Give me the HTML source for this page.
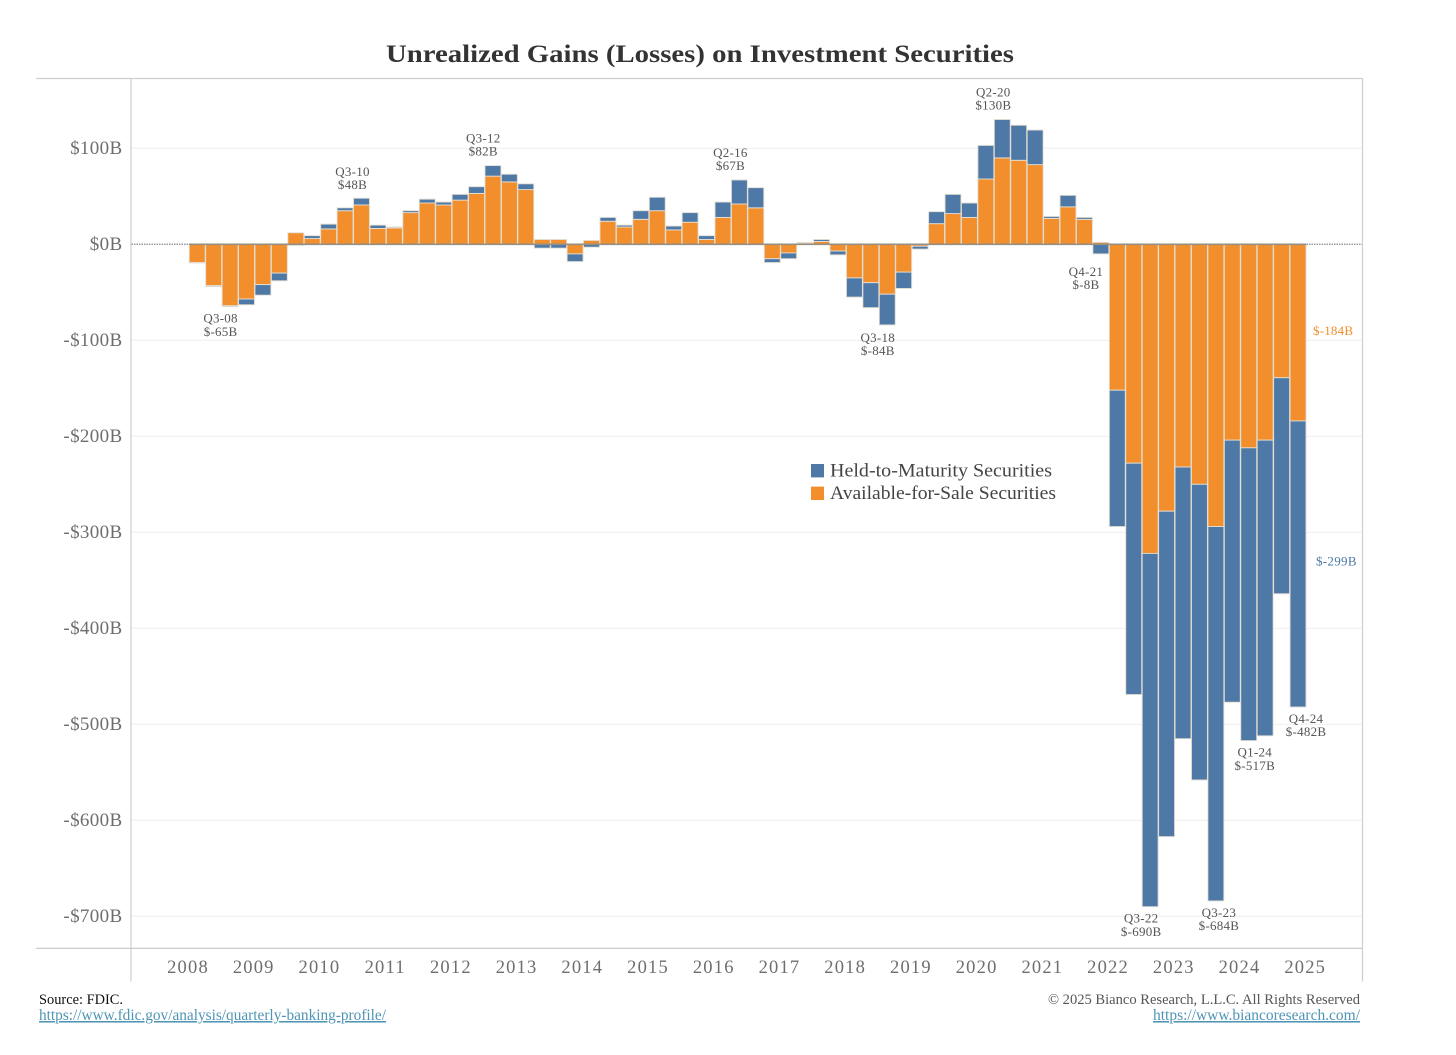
<!DOCTYPE html>
<html lang="en">
<head>
<meta charset="utf-8">
<title>Unrealized Gains (Losses) on Investment Securities</title>
<style>
html,body{margin:0;padding:0;background:#fff;width:1456px;height:1055px;overflow:hidden}
svg{display:block;font-family:"Liberation Serif",serif}
</style>
</head>
<body>
<svg id="chart" width="1456" height="1055" viewBox="0 0 1456 1055" xmlns="http://www.w3.org/2000/svg">
  <rect x="0" y="0" width="1456" height="1055" fill="#ffffff"/>
  <text x="700" y="62" text-anchor="middle" font-size="25.5" font-weight="700" fill="#333333" textLength="628" lengthAdjust="spacingAndGlyphs">Unrealized Gains (Losses) on Investment Securities</text>
  <g id="grid"></g>
  <g id="frame">
    <line x1="36" y1="78.5" x2="1362.5" y2="78.5" stroke="#cfcfcf" stroke-width="1.2"/>
    <line x1="36" y1="948.3" x2="1362.5" y2="948.3" stroke="#c6c6c6" stroke-width="1.2"/>
    <line x1="131" y1="78" x2="131" y2="981.5" stroke="#cfcfcf" stroke-width="1.2"/>
    <line x1="1362.5" y1="78" x2="1362.5" y2="981.5" stroke="#cfcfcf" stroke-width="1.2"/>
  </g>
  <g id="y-axis"></g>
  <g id="x-axis"></g>
  <g id="bars"></g>
  <g id="zero"></g>
  <g id="annotations"></g>
  <g>
    <g>
      <rect x="811" y="464" width="13" height="13.4" fill="#4e79a7"/>
      <text x="830" y="476.5" font-size="19" fill="#444444" textLength="222" lengthAdjust="spacingAndGlyphs">Held-to-Maturity Securities</text>
    </g>
    <g>
      <rect x="811" y="486.6" width="13" height="13.4" fill="#f28e2b"/>
      <text x="830" y="499" font-size="19" fill="#444444" textLength="226" lengthAdjust="spacingAndGlyphs">Available-for-Sale Securities</text>
    </g>
  </g>
  <g>
    <text x="39" y="1004" font-size="14.5" fill="#111111" textLength="84" lengthAdjust="spacingAndGlyphs">Source: FDIC.</text>
    <text x="39" y="1020" font-size="15.5" fill="#4f94b5" text-decoration="underline" textLength="347" lengthAdjust="spacingAndGlyphs">https://www.fdic.gov/analysis/quarterly-banking-profile/</text>
    <text x="1360" y="1004" text-anchor="end" font-size="15" fill="#555555" textLength="312" lengthAdjust="spacingAndGlyphs">© 2025 Bianco Research, L.L.C. All Rights Reserved</text>
    <text x="1360" y="1020" text-anchor="end" font-size="15.5" fill="#4f94b5" text-decoration="underline" textLength="207" lengthAdjust="spacingAndGlyphs">https://www.biancoresearch.com/</text>
  </g>
</svg>
<script>
const quarters = [
  "Q1-08","Q2-08","Q3-08","Q4-08","Q1-09","Q2-09","Q3-09","Q4-09",
  "Q1-10","Q2-10","Q3-10","Q4-10","Q1-11","Q2-11","Q3-11","Q4-11",
  "Q1-12","Q2-12","Q3-12","Q4-12","Q1-13","Q2-13","Q3-13","Q4-13",
  "Q1-14","Q2-14","Q3-14","Q4-14","Q1-15","Q2-15","Q3-15","Q4-15",
  "Q1-16","Q2-16","Q3-16","Q4-16","Q1-17","Q2-17","Q3-17","Q4-17",
  "Q1-18","Q2-18","Q3-18","Q4-18","Q1-19","Q2-19","Q3-19","Q4-19",
  "Q1-20","Q2-20","Q3-20","Q4-20","Q1-21","Q2-21","Q3-21","Q4-21",
  "Q1-22","Q2-22","Q3-22","Q4-22","Q1-23","Q2-23","Q3-23","Q4-23",
  "Q1-24","Q2-24","Q3-24","Q4-24"
];
const availableForSale = [
  -19,-43,-64,-57,-42,-30,12,6,
  16,35,41,16.5,17,33,43,41,
  46,53,71,65,57,5,5,-10,
  4,24,18,26,35,15,23,5,
  28,42,38,-15,-9,1.5,3,-7,
  -35,-40,-52,-29,-2,21.5,32,28,
  68,90,87.5,83,27,39,26,2,
  -152,-228,-322,-278,-232,-250,-294,-204,
  -212,-204,-139,-184
];
const heldToMaturity = [
  -0.5,-1,-1,-6,-11,-8,-1,3,
  5,3,7,3.5,1,2,4,3,
  6,7,11,8,6,-4,-4,-8,
  -3,4,2,9,14,4,10,4,
  16,25,21,-4,-6,0.5,2,-4,
  -20,-26,-32,-17,-3,12.5,20,15,
  35,40,36.5,36,2,12,2,-10,
  -142,-241,-368,-339,-283,-308,-390,-273,
  -305,-308,-225,-298
];
const yTickValues = [100,0,-100,-200,-300,-400,-500,-600,-700];
const yTickLabels = ["$100B","$0B","-$100B","-$200B","-$300B","-$400B","-$500B","-$600B","-$700B"];
const yearLabels = ["2008","2009","2010","2011","2012","2013","2014","2015","2016","2017","2018","2019","2020","2021","2022","2023","2024","2025"];
const annotatedQuarters = ["Q3-08","Q3-10","Q3-12","Q2-16","Q3-18","Q2-20","Q4-21","Q3-22","Q3-23","Q1-24","Q4-24"];
const annotatedValues = ["$-65B","$48B","$82B","$67B","$-84B","$130B","$-8B","$-690B","$-684B","$-517B","$-482B"];
const latestAfsLabel = "$-184B";
const latestHtmLabel = "$-299B";

const NS = "http://www.w3.org/2000/svg";
const X0 = 189, BAR = 16.43, Y0 = 244.3, PXPER = 0.96;
function xScale(i){ return X0 + i * BAR; }
function yScale(v){ return Y0 - v * PXPER; }
function make(parent, tag, attrs, txt){
  const el = document.createElementNS(NS, tag);
  for (const k in attrs) el.setAttribute(k, attrs[k]);
  if (txt !== undefined) el.textContent = txt;
  parent.appendChild(el);
  return el;
}
function slug(s){ return s.toLowerCase().replace(/[^a-z0-9]+/g, "-"); }

const gridG = document.getElementById("grid");
const yG = document.getElementById("y-axis");
yTickValues.forEach((v, i) => {
  if (v !== 0) {
    const g = make(gridG, "line", {x1:131.5, x2:1362, y1:yScale(v), y2:yScale(v), stroke:"#f0f0f0", "stroke-width":1.1});
    
    
  }
  const t = make(yG, "text", {x:122.5, y:yScale(v)+5.5, "text-anchor":"end", "font-size":19, "letter-spacing":0.35, fill:"#6e6e6e"}, yTickLabels[i]);
  
  
});

const xG = document.getElementById("x-axis");
yearLabels.forEach((lab, i) => {
  const t = make(xG, "text", {x:xScale(i*4)-1, y:973, "text-anchor":"middle", "font-size":18.5, "letter-spacing":1.2, fill:"#6e6e6e"}, lab);
  
  
});

const barG = document.getElementById("bars");
const barEnds = quarters.map(() => ({top:0, bottom:0}));
quarters.forEach((q, i) => {
  let up = 0, down = 0;
  const parts = [[availableForSale[i], "#f28e2b", "afs"], [heldToMaturity[i], "#4e79a7", "htm"]];
  parts.forEach(p => {
    const v = p[0];
    const start = v >= 0 ? up : down;
    const end = start + v;
    if (v >= 0) up = end; else down = end;
    const y1 = yScale(Math.max(start, end)), y2 = yScale(Math.min(start, end));
    const r = make(barG, "rect", {x:xScale(i)+0.25, y:y1, width:BAR-0.5, height:Math.max(y2-y1, 0.3), fill:p[1], stroke:"#e4ded3", "stroke-width":0.9});
    
    
  });
  barEnds[i].top = up;
  barEnds[i].bottom = down;
});

const zG = document.getElementById("zero");
const zd = make(zG, "line", {x1:131.5, x2:1362, y1:Y0, y2:Y0, stroke:"#949494", "stroke-width":1.4, "stroke-dasharray":"1.5 1"});


const zs = make(zG, "line", {x1:xScale(0), x2:xScale(quarters.length), y1:Y0, y2:Y0, stroke:"#968f86", "stroke-width":1.6});



const annG = document.getElementById("annotations");
/* horizontal label nudges relative to each annotated bar's centre, in pixels */
const labelNudgeX = [-9.5,-9,-9.7,-9,-9.5,-9,-15,-9,3,6,8];
const labelGapY = [12,11,12,12,13,12,18,12,12,12,12];
annotatedQuarters.forEach((q, k) => {
  const i = quarters.indexOf(q);
  const cx = xScale(i) + BAR/2 + labelNudgeX[k];
  const total = availableForSale[i] + heldToMaturity[i];
  let y1, y2;
  if (total >= 0) {
    const top = yScale(barEnds[i].top);
    y2 = top - labelGapY[k] + 2;
    y1 = y2 - 13.2;
  } else {
    const bot = yScale(barEnds[i].bottom);
    y1 = bot + labelGapY[k] + 4;
    y2 = y1 + 13.2;
  }
  const a = make(annG, "text", {x:cx, y:y1, "text-anchor":"middle", "font-size":13, "letter-spacing":0.25, fill:"#555555"}, q);
  
  
  const b = make(annG, "text", {x:cx, y:y2, "text-anchor":"middle", "font-size":13, "letter-spacing":0.25, fill:"#555555"}, annotatedValues[k]);
  
  
});

const last = quarters.length - 1;
const afsLabel = make(annG, "text", {x:1313, y:yScale(availableForSale[last]/2)+2.5, "font-size":13, "letter-spacing":0.2, fill:"#f28e2b"}, latestAfsLabel);


const htmLabel = make(annG, "text", {x:1316, y:yScale(availableForSale[last]+heldToMaturity[last]/2)+1.5, "font-size":13, "letter-spacing":0.3, fill:"#4e79a7"}, latestHtmLabel);


</script>
</body>
</html>
